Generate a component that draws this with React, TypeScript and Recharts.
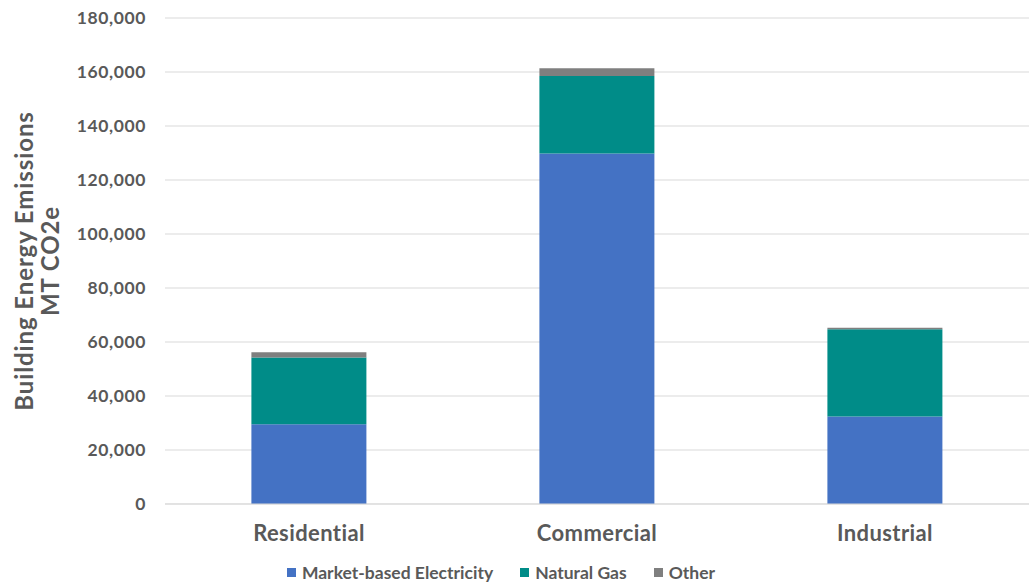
import React from 'react';
import { BarChart, Bar, XAxis, YAxis, CartesianGrid, Legend } from 'recharts';

const categories = ['Residential', 'Commercial', 'Industrial'];
const electricity = [29500, 129800, 32400];
const naturalGas = [24800, 28700, 32300];
const other = [1900, 2900, 600];
const yTicks = [0, 20000, 40000, 60000, 80000, 100000, 120000, 140000, 160000, 180000];

const SERIES = [
  { key: 'electricity', name: 'Market-based Electricity', color: '#4472C4' },
  { key: 'gas', name: 'Natural Gas', color: '#008C88' },
  { key: 'other', name: 'Other', color: '#7F7F7F' },
];

const data = categories.map((name, i) => ({
  name,
  electricity: electricity[i],
  gas: naturalGas[i],
  other: other[i],
}));

const FONT = 'Lato, "Open Sans", sans-serif';
const TEXT = '#595959';

const YLabel = ({ viewBox }: any) => {
  const cy = viewBox.y + viewBox.height / 2;
  const style = { fontFamily: FONT, fontWeight: 700, fontSize: 24, fill: TEXT, letterSpacing: 0.9 };
  return (
    <g>
      <text
        x={23}
        y={cy}
        transform={`rotate(-90, 23, ${cy})`}
        textAnchor="middle"
        dominantBaseline="central"
        style={style}
      >
        Building Energy Emissions
      </text>
      <text
        x={49}
        y={cy}
        transform={`rotate(-90, 49, ${cy})`}
        textAnchor="middle"
        dominantBaseline="central"
        style={style}
      >
        MT CO2e
      </text>
    </g>
  );
};

const LegendContent = () => (
  <div
    style={{
      display: 'flex',
      justifyContent: 'center',
      gap: 27,
      fontFamily: FONT,
      fontWeight: 700,
      fontSize: 17.5,
      color: TEXT,
    }}
  >
    {SERIES.map((s) => (
      <span key={s.key} style={{ display: 'flex', alignItems: 'center', gap: 6 }}>
        <span style={{ display: 'inline-block', width: 9, height: 9, background: s.color }} />
        {s.name}
      </span>
    ))}
  </div>
);

export default function App() {
  return (
    <div style={{ position: 'absolute', left: 0, top: 0, background: '#fff' }}>
      <BarChart
        width={1034}
        height={585}
        data={data}
        margin={{ top: 18, right: 5, bottom: 0, left: 0 }}
        barCategoryGap="30%"
      >
        <CartesianGrid vertical={false} stroke="#D9D9D9" />
        <XAxis
          dataKey="name"
          axisLine={{ stroke: '#D9D9D9' }}
          tickLine={false}
          tickMargin={15}
          height={60}
          tick={{ fontFamily: FONT, fontWeight: 700, fontSize: 22, fill: TEXT, letterSpacing: 0.4 }}
        />
        <YAxis
          width={165}
          domain={[0, 180000]}
          ticks={yTicks}
          interval={0}
          axisLine={false}
          tickLine={false}
          tickMargin={13}
          tickFormatter={(v: number) => v.toLocaleString('en-US')}
          tick={{ fontFamily: FONT, fontWeight: 700, fontSize: 17.5, fill: TEXT, letterSpacing: 0.6 }}
          label={<YLabel />}
        />
        <Legend
          verticalAlign="bottom"
          content={<LegendContent />}
          wrapperStyle={{ left: 0, width: 1002, bottom: 2 }}
        />
        {SERIES.map((s) => (
          <Bar
            key={s.key}
            dataKey={s.key}
            name={s.name}
            stackId="a"
            fill={s.color}
            isAnimationActive={false}
          />
        ))}
      </BarChart>
    </div>
  );
}
